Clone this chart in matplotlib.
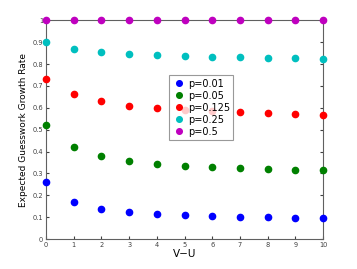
import matplotlib
matplotlib.use("Agg")
import matplotlib.pyplot as plt

# values
vu = [0, 1, 2, 3, 4, 5, 6, 7, 8, 9, 10]
p001 = [0.262, 0.170, 0.138, 0.123, 0.114, 0.110, 0.105, 0.102, 0.100, 0.097, 0.096]
p005 = [0.523, 0.421, 0.380, 0.358, 0.344, 0.335, 0.329, 0.325, 0.320, 0.317, 0.314]
p0125 = [0.733, 0.662, 0.630, 0.610, 0.598, 0.590, 0.584, 0.579, 0.575, 0.572, 0.568]
p025 = [0.901, 0.869, 0.855, 0.846, 0.841, 0.835, 0.834, 0.831, 0.829, 0.826, 0.824]
p05 = [1, 1, 1, 1, 1, 1, 1, 1, 1, 1, 1]

series = [
    ("p=0.01", p001, (0, 0, 1)),
    ("p=0.05", p005, (0, 0.5, 0)),
    ("p=0.125", p0125, (1, 0, 0)),
    ("p=0.25", p025, (0, 0.75, 0.75)),
    ("p=0.5", p05, (0.75, 0, 0.75)),
]

fig = plt.figure(figsize=(3.57, 2.69), dpi=100)
ax = fig.add_axes([0.129, 0.1115, 0.776, 0.813])

for label, vals, col in series:
    ax.plot(vu, vals, 'o', color=col, markersize=4.5, label=label, clip_on=False, zorder=3)

ax.set_xlim(0, 10)
ax.set_ylim(0, 1)
ax.set_xticks(range(0, 11))
ax.set_yticks([0, 0.1, 0.2, 0.3, 0.4, 0.5, 0.6, 0.7, 0.8, 0.9, 1])
ax.set_yticklabels(['0', '0.1', '0.2', '0.3', '0.4', '0.5', '0.6', '0.7', '0.8', '0.9', '1'])
ax.tick_params(direction='in', length=2.5, labelsize=4.8, colors='#404040', pad=2,
               top=True, right=True)
for s in ax.spines.values():
    s.set_color('#606060')
    s.set_linewidth(0.8)

ax.set_xlabel('V\u2212U', fontsize=7.5, labelpad=1)
ax.set_ylabel('Expected Guesswork Growth Rate', fontsize=6.5, labelpad=3)

leg = ax.legend(loc='center', bbox_to_anchor=(0.56, 0.60), fontsize=7, frameon=True,
                fancybox=False, handletextpad=0.3, borderpad=0.35, labelspacing=0.2,
                handlelength=1.3, markerscale=0.9)
leg.get_frame().set_edgecolor('#808080')
leg.get_frame().set_linewidth(0.8)
leg.set_zorder(5)

fig.savefig('out.png', dpi=100)
